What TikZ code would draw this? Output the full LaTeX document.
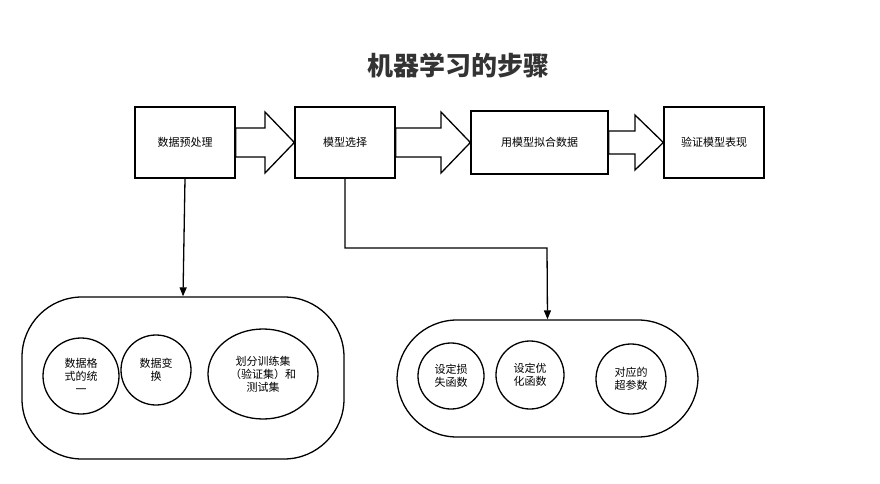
\documentclass[tikz,border=0pt]{standalone}
\usepackage{fontspec}
\setmainfont{Noto Sans CJK SC}
\usetikzlibrary{arrows.meta,shapes.geometric}
\begin{document}
\begin{tikzpicture}[x=1pt,y=-1pt,line width=1.3pt,
  box/.style={draw,minimum width=100pt,minimum height=71pt,font=\fontsize{11}{13}\selectfont,inner sep=0},
  circ/.style={draw,ellipse,font=\fontsize{11}{13}\selectfont,align=center,inner sep=0},
  cont/.style={draw,rounded corners=60pt},
  harrow/.style={draw,line width=1.3pt,fill=white}]
\useasboundingbox (0,0) rectangle (880,484);
\node[font=\fontsize{26}{30}\selectfont\bfseries,text=black!80] (title) at (458,66) {机器学习的步骤};
\node[box] (a) at (185,142.5) {数据预处理};
\node[box] (b) at (345,142.5) {模型选择};
\node[box,minimum width=137pt,minimum height=63pt] (c) at (539.5,142.5) {用模型拟合数据};
\node[box] (d) at (714,142.5) {验证模型表现};
% hollow block arrows
\draw[harrow] (a.east|-0,128) -- (265,128) -- (265,112) -- (b.west) -- (265,173) -- (265,157) -- (a.east|-0,157) -- cycle;
\draw[harrow] (b.east|-0,128) -- (441,128) -- (441,112) -- (c.west) -- (441,173) -- (441,157) -- (b.east|-0,157) -- cycle;
\draw[harrow] (c.east|-0,131) -- (635,131) -- (635,115) -- (d.west) -- (635,170) -- (635,154) -- (c.east|-0,154) -- cycle;
% containers
\node[cont,minimum width=322pt,minimum height=162pt] (L) at (183,378) {};
\node[cont,minimum width=301pt,minimum height=117pt] (R) at (547.5,378.5) {};
\draw[-{Triangle[length=9pt,width=7pt]}] (a.south) -- (L.north);
\coordinate (k1) at (345,248);
\coordinate (k2) at (547,248);
\draw[-{Triangle[length=9pt,width=7pt]}] (b.south) -- (k1) -- (k2) -- (R.north);
% circles
\node[circ,minimum width=76pt,minimum height=76pt] (c1) at (81,376) {数据格\\式的统\\一};
\node[circ,minimum width=70pt,minimum height=70pt] (c2) at (156,370) {数据变\\换};
\node[circ,minimum width=110pt,minimum height=90pt] (c3) at (263,374) {划分训练集\\（验证集）和\\测试集};
\node[circ,minimum width=66pt,minimum height=66pt] (c4) at (451,376) {设定损\\失函数};
\node[circ,minimum width=68pt,minimum height=68pt] (c5) at (530,375) {设定优\\化函数};
\node[circ,minimum width=70pt,minimum height=70pt] (c6) at (631,379) {对应的\\超参数};
\end{tikzpicture}
\end{document}
